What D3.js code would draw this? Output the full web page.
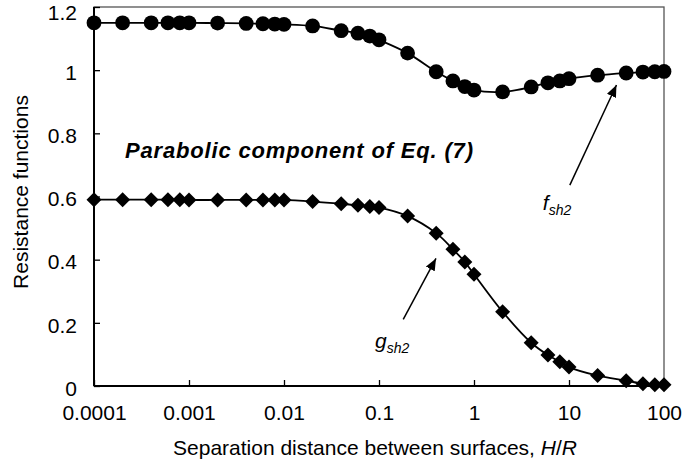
<!DOCTYPE html>
<html>
<head>
<meta charset="utf-8">
<script src="https://cdn.jsdelivr.net/npm/d3@7"></script>
<style>
  body { margin: 0; background: #fff; }
  text { font-family: Arial, "Liberation Sans", sans-serif; fill: #000; }
</style>
</head>
<body>
<div class="container"></div>
<script>
// data
const sepDist = [0.0001, 0.0002, 0.0004, 0.0006, 0.0008, 0.001, 0.002, 0.004, 0.006, 0.008,
                 0.01, 0.02, 0.04, 0.06, 0.08, 0.1, 0.2, 0.4, 0.6, 0.8,
                 1, 2, 4, 6, 8, 10, 20, 40, 60, 80, 100];
const fsh2 = [1.15, 1.15, 1.15, 1.15, 1.15, 1.15, 1.149, 1.148, 1.147, 1.146,
              1.145, 1.14, 1.125, 1.117, 1.108, 1.096, 1.054, 0.995, 0.966, 0.948,
              0.937, 0.931, 0.947, 0.960, 0.966, 0.973, 0.984, 0.991, 0.994, 0.995, 0.996];
const gsh2 = [0.59, 0.59, 0.59, 0.59, 0.59, 0.589, 0.589, 0.589, 0.589, 0.589,
              0.589, 0.584, 0.577, 0.572, 0.568, 0.565, 0.538, 0.484, 0.433, 0.393,
              0.354, 0.235, 0.137, 0.098, 0.077, 0.060, 0.033, 0.017, 0.007, 0.004, 0.004];
const xTicks = [0.0001, 0.001, 0.01, 0.1, 1, 10, 100];
const xTickLabels = ["0.0001", "0.001", "0.01", "0.1", "1", "10", "100"];
const yTicks = [0, 0.2, 0.4, 0.6, 0.8, 1, 1.2];

const W = 683, H = 464;
const margin = {top: 7, right: 19, bottom: 78, left: 94};
const gw = W - margin.left - margin.right;
const gh = H - margin.top - margin.bottom;

const svg = d3.select(".container").append("svg")
    .attr("width", W)
    .attr("height", H);

// arrow head
svg.append("defs").append("marker")
    .attr("id", "head")
    .attr("viewBox", "0 0 12 10")
    .attr("refX", 12).attr("refY", 5)
    .attr("markerWidth", 12).attr("markerHeight", 10)
    .attr("markerUnits", "userSpaceOnUse")
    .attr("orient", "auto")
  .append("path")
    .attr("d", "M0,0 L12,5 L0,10 Z")
    .attr("fill", "#000");

const graph = svg.append("g")
    .attr("transform", `translate(${margin.left}, ${margin.top})`);

const x = d3.scaleLog().domain([0.0001, 100]).range([0, gw]);
const y = d3.scaleLinear().domain([0, 1.2]).range([gh, 0]);

// frame
graph.append("rect")
    .attr("width", gw).attr("height", gh)
    .attr("fill", "none")
    .attr("stroke", "#555")
    .attr("stroke-width", 1.3);

// axes
const xAxis = d3.axisBottom(x)
    .tickValues(xTicks)
    .tickFormat((d, i) => xTickLabels[i])
    .tickSizeInner(-6).tickSizeOuter(0).tickPadding(19);
const yAxis = d3.axisLeft(y)
    .tickValues(yTicks)
    .tickFormat(d3.format("~g"))
    .tickSizeInner(-6).tickSizeOuter(0).tickPadding(17);

const xg = graph.append("g")
    .attr("transform", `translate(0, ${gh})`)
    .call(xAxis);
const yg = graph.append("g").call(yAxis);

[xg, yg].forEach(g => {
  g.select(".domain").remove();
  g.selectAll(".tick line").attr("stroke", "#000").attr("stroke-width", 1.3);
  g.selectAll(".tick text").style("font-size", "21px").attr("fill", "#000");
});
// top label sits a bit lower so it stays inside the picture
yg.selectAll(".tick text").attr("dy", d => d === 1.2 ? "0.6em" : "0.44em");

graph.append("line")
    .attr("x1", 0).attr("x2", 0).attr("y1", 0).attr("y2", gh)
    .attr("stroke", "#000").attr("stroke-width", 2);
graph.append("line")
    .attr("x1", 0).attr("x2", gw).attr("y1", gh).attr("y2", gh)
    .attr("stroke", "#000").attr("stroke-width", 2);

// axis titles
svg.append("text")
    .attr("x", 375).attr("y", 455)
    .attr("text-anchor", "middle")
    .style("font-size", "21px")
    .html('Separation distance between surfaces, <tspan font-style="italic">H</tspan>/<tspan font-style="italic">R</tspan>');

svg.append("text")
    .attr("transform", "translate(28, 192) rotate(-90)")
    .attr("text-anchor", "middle")
    .style("font-size", "21px")
    .text("Resistance functions");

// series
const line = (vals) => d3.line()
    .x((d, i) => x(sepDist[i]))
    .y(d => y(d))
    .curve(d3.curveCatmullRom.alpha(0.5))(vals);

graph.append("path")
    .attr("d", line(fsh2))
    .attr("fill", "none").attr("stroke", "#000").attr("stroke-width", 1.8);
graph.append("path")
    .attr("d", line(gsh2))
    .attr("fill", "none").attr("stroke", "#000").attr("stroke-width", 1.8);

graph.selectAll(".circ")
    .data(fsh2)
    .enter()
    .append("circle")
    .attr("class", "circ")
    .attr("cx", (d, i) => x(sepDist[i]))
    .attr("cy", d => y(d))
    .attr("r", 7.4)
    .attr("fill", "#000");

graph.selectAll(".diam")
    .data(gsh2)
    .enter()
    .append("path")
    .attr("class", "diam")
    .attr("transform", (d, i) => `translate(${x(sepDist[i])}, ${y(d)})`)
    .attr("d", "M0,-7.5 L7.5,0 L0,7.5 L-7.5,0 Z")
    .attr("fill", "#000");

// annotations
graph.append("text")
    .attr("x", x(0.000212)).attr("y", y(0.722))
    .attr("textLength", 348).attr("lengthAdjust", "spacing")
    .style("font-size", "22px")
    .style("font-weight", "bold")
    .style("font-style", "italic")
    .text("Parabolic component of Eq. (7)");

const arrows = [
  {from: [10.2, 0.636], to: [31.6, 0.953]},
  {from: [0.18, 0.211], to: [0.398, 0.404]}
];
graph.selectAll(".arrow")
    .data(arrows)
    .enter()
    .append("line")
    .attr("class", "arrow")
    .attr("x1", d => x(d.from[0])).attr("y1", d => y(d.from[1]))
    .attr("x2", d => x(d.to[0])).attr("y2", d => y(d.to[1]))
    .attr("stroke", "#000").attr("stroke-width", 1.5)
    .attr("marker-end", "url(#head)");

const labels = [
  {name: "f", at: [5.3, 0.557]},
  {name: "g", at: [0.091, 0.12]}
];
labels.forEach(l => {
  const t = graph.append("text")
      .attr("x", x(l.at[0])).attr("y", y(l.at[1]))
      .style("font-size", "21px")
      .style("font-style", "italic");
  t.append("tspan").text(l.name);
  t.append("tspan").attr("dy", 5).style("font-size", "14px").text("sh2");
});
</script>
</body>
</html>
